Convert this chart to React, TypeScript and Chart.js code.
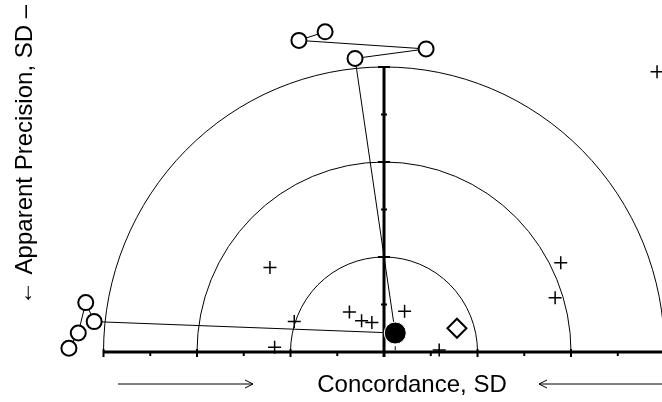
import React, { useEffect, useRef } from "react";
import { Chart, registerables } from "chart.js";

Chart.register(...registerables);

// ---- data (SD units) ----
const topCircleX = [-0.63, -0.91, 0.45, -0.31];
const topCircleY = [3.37, 3.28, 3.19, 3.09];
const leftCircleX = [-3.37, -3.27, -3.19, -3.1];
const leftCircleY = [0.04, 0.2, 0.52, 0.32];
const dotX = [0.12];
const dotY = [0.2];
const diamondX = [0.78];
const diamondY = [0.25];
const plusX = [2.92, -1.22, 1.89, 1.83, -0.37, -0.24, -0.13, 0.22, -0.96, -1.17, 0.59];
const plusY = [2.95, 0.89, 0.94, 0.57, 0.42, 0.33, 0.31, 0.43, 0.32, 0.05, 0.02];
const arcRadii = [1, 2, 3];
const axisTicks = [-3, -2.5, -2, -1.5, -1, -0.5, 0, 0.5, 1, 1.5, 2, 2.5, 3];
const verticalTicks = [0.5, 1, 1.5, 2, 2.5, 3];
const xTitle = "Concordance, SD";
const yTitle = "\u2190 Apparent Precision, SD \u2013";

// ---- view range ----
const X_MIN = -4.107;
const X_MAX = 2.973;
const Y_MIN = -0.526;
const Y_MAX = 3.705;

const pts = (xs: number[], ys: number[]) => xs.map((x, i) => ({ x, y: ys[i] }));

const decorPlugin = {
  id: "decor",
  beforeDatasetsDraw(chart: any) {
    const ctx = chart.ctx;
    const xs = chart.scales.x;
    const ys = chart.scales.y;
    const cx = xs.getPixelForValue(0);
    const cy = ys.getPixelForValue(0);
    ctx.save();
    ctx.strokeStyle = "#000";
    // arcs
    ctx.lineWidth = 1;
    arcRadii.forEach((r) => {
      const rx = xs.getPixelForValue(r) - cx;
      const ry = cy - ys.getPixelForValue(r);
      ctx.beginPath();
      ctx.ellipse(cx, cy, rx, ry, 0, Math.PI, 2 * Math.PI);
      ctx.stroke();
    });
    // horizontal axis
    const left = xs.getPixelForValue(-3);
    ctx.lineWidth = 3;
    ctx.beginPath();
    ctx.moveTo(left, cy);
    ctx.lineTo(chart.width, cy);
    ctx.stroke();
    ctx.lineWidth = 2;
    axisTicks.forEach((t) => {
      const px = xs.getPixelForValue(t);
      const major = Number.isInteger(t);
      ctx.beginPath();
      ctx.moveTo(px, cy - (major ? 3 : 0));
      ctx.lineTo(px, cy + (major ? 5 : 4));
      ctx.stroke();
    });
    // vertical axis
    const top = ys.getPixelForValue(3);
    ctx.lineWidth = 3;
    ctx.beginPath();
    ctx.moveTo(cx, cy + 5);
    ctx.lineTo(cx, top);
    ctx.stroke();
    ctx.lineWidth = 2;
    verticalTicks.forEach((t) => {
      const py = ys.getPixelForValue(t);
      const w = Number.isInteger(t) ? 6 : 3;
      ctx.beginPath();
      ctx.moveTo(cx - w, py);
      ctx.lineTo(cx + w, py);
      ctx.stroke();
    });
    ctx.restore();
  },
  afterDraw(chart: any) {
    const ctx = chart.ctx;
    ctx.save();
    ctx.fillStyle = "#000";
    ctx.strokeStyle = "#000";
    ctx.font = "24px 'Liberation Sans', Arial, sans-serif";
    ctx.textAlign = "center";
    ctx.textBaseline = "middle";
    ctx.fillText(xTitle, 412, 385);
    // arrows
    ctx.lineWidth = 1;
    ctx.beginPath();
    ctx.moveTo(118, 384);
    ctx.lineTo(253, 384);
    ctx.moveTo(245, 380);
    ctx.lineTo(253, 384);
    ctx.lineTo(245, 388);
    ctx.moveTo(662, 384);
    ctx.lineTo(539, 384);
    ctx.moveTo(547, 380);
    ctx.lineTo(539, 384);
    ctx.lineTo(547, 388);
    ctx.stroke();
    // y title
    ctx.translate(25, 155);
    ctx.rotate(-Math.PI / 2);
    ctx.fillText(yTitle, 0, 0);
    ctx.restore();
  },
};

export default function App() {
  const ref = useRef<HTMLCanvasElement | null>(null);
  useEffect(() => {
    if (!ref.current) return;
    const dot = pts(dotX, dotY)[0];
    const chart = new Chart(ref.current, {
      type: "scatter",
      data: {
        datasets: [
          {
            label: "top path",
            data: [...pts(topCircleX, topCircleY), dot],
            showLine: true,
            borderColor: "#000",
            borderWidth: 1,
            pointRadius: 0,
            order: 5,
          },
          {
            label: "left path",
            data: [...pts(leftCircleX, leftCircleY), dot],
            showLine: true,
            borderColor: "#000",
            borderWidth: 1,
            pointRadius: 0,
            order: 5,
          },
          {
            label: "dot tick",
            data: [
              { x: dot.x, y: 0.02 },
              { x: dot.x, y: 0.06 },
            ],
            showLine: true,
            borderColor: "#000",
            borderWidth: 1,
            pointRadius: 0,
            order: 5,
          },
          {
            label: "circles",
            data: [...pts(topCircleX, topCircleY), ...pts(leftCircleX, leftCircleY)],
            pointStyle: "circle",
            pointRadius: 7.5,
            borderWidth: 2,
            borderColor: "#000",
            backgroundColor: "#fff",
            order: 2,
          },
          {
            label: "plus",
            data: pts(plusX, plusY),
            pointStyle: "cross",
            pointRadius: 6.5,
            borderWidth: 1.5,
            borderColor: "#000",
            order: 2,
          },
          {
            label: "diamond",
            data: pts(diamondX, diamondY),
            pointStyle: "rectRot",
            pointRadius: 9.5,
            borderWidth: 2,
            borderColor: "#000",
            backgroundColor: "#fff",
            order: 2,
          },
          {
            label: "dot",
            data: pts(dotX, dotY),
            pointStyle: "circle",
            pointRadius: 11,
            borderWidth: 1,
            borderColor: "#fff",
            backgroundColor: "#000",
            order: 1,
          },
        ],
      },
      options: {
        animation: false,
        responsive: false,
        devicePixelRatio: 1,
        layout: { padding: 0, autoPadding: false },
        plugins: {
          legend: { display: false },
          tooltip: { enabled: false },
        },
        scales: {
          x: { type: "linear", min: X_MIN, max: X_MAX, display: false },
          y: { type: "linear", min: Y_MIN, max: Y_MAX, display: false },
        },
      },
      plugins: [decorPlugin],
    });
    return () => chart.destroy();
  }, []);
  return (
    <div style={{ position: "absolute", left: 0, top: 0, width: 662, height: 402, background: "#fff" }}>
      <canvas ref={ref} width={662} height={402} style={{ display: "block" }} />
    </div>
  );
}
